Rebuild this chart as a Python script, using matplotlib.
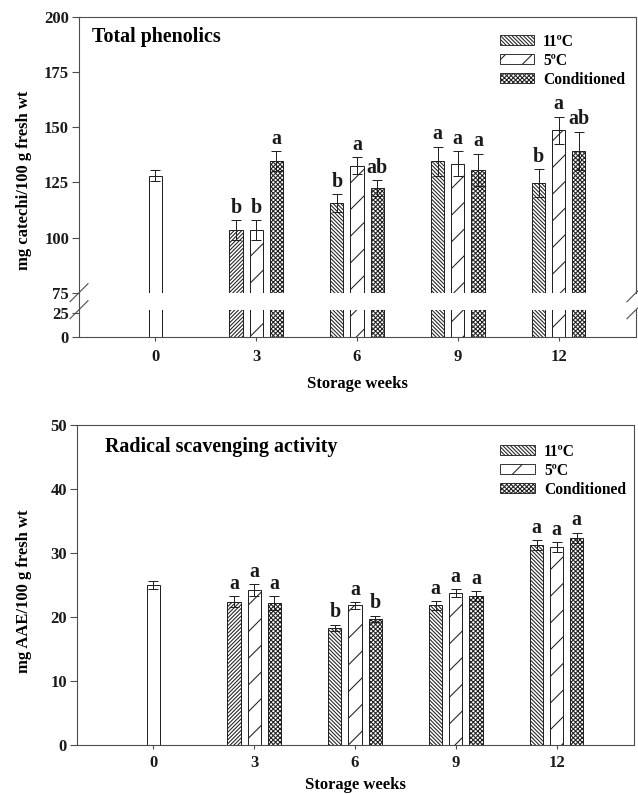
import matplotlib
matplotlib.use("Agg")
import matplotlib.pyplot as plt
import numpy as np
from matplotlib.patches import Patch
from matplotlib.lines import Line2D

plt.rcParams['font.family'] = ['Liberation Serif', 'DejaVu Serif']
plt.rcParams['font.weight'] = 'bold'
plt.rcParams['hatch.linewidth'] = 0.95

# storage weeks, week 0 = initial (single control bar)
weeks = [0, 3, 6, 9, 12]
stored = [3, 6, 9, 12]
treatments = ['11ºC', '5ºC', 'Conditioned']

# total phenolics, mg catechin / 100 g fresh wt
phen_init = 128.0
phen_init_err = 2.5
phen_11 = [103.5, 115.8, 134.6, 124.8]
phen_5 = [103.5, 132.6, 133.4, 148.6]
phen_cond = [134.8, 122.6, 130.8, 139.4]
phen_11_err = [4.5, 4.0, 6.6, 6.2]
phen_5_err = [4.5, 4.0, 5.7, 6.2]
phen_cond_err = [4.5, 3.6, 7.3, 8.6]
phen_letters = [['b', 'b', 'a'], ['b', 'a', 'ab'], ['a', 'a', 'a'], ['b', 'a', 'ab']]

# radical scavenging activity, mg AAE / 100 g fresh wt
rsa_init = 25.0
rsa_init_err = 0.6
rsa_11 = [22.4, 18.3, 21.8, 31.2]
rsa_5 = [24.2, 21.8, 23.8, 30.9]
rsa_cond = [22.2, 19.7, 23.3, 32.4]
rsa_11_err = [0.9, 0.5, 0.7, 0.8]
rsa_5_err = [0.9, 0.5, 0.6, 0.75]
rsa_cond_err = [1.1, 0.5, 0.8, 0.8]
rsa_letters = [['a', 'a', 'a'], ['b', 'a', 'b'], ['a', 'a', 'a'], ['a', 'a', 'a']]

# styling
edge = '#222222'
spine_c = '#4d4d4d'
offsets = [-0.6, 0.0, 0.6]
bar_w = 0.39
h11 = '\\' * 7
h5 = '/'
hc = 'xxxxxx'
# the week-3 11ºC bar is hatched the other way in the original
hatch_sets = [['/' * 7, h11, h11, h11], [h5] * 4, [hc] * 4]


def draw_bars(ax, init, series, init_err=None, errs=None):
    ax.bar(weeks[0], init, width=bar_w, color='white', edgecolor=edge, lw=0.9, zorder=2)
    if init_err is not None:
        ax.errorbar(weeks[0], init, yerr=init_err, fmt='none', ecolor=edge,
                    elinewidth=0.9, capsize=4.5, capthick=0.9, zorder=3)
    for i, vals in enumerate(series):
        x = np.array(stored) + offsets[i]
        bars = ax.bar(x, vals, width=bar_w, color='white', edgecolor=edge, lw=0.9, zorder=2)
        for b, h in zip(bars, hatch_sets[i]):
            b.set_hatch(h)
        if errs is not None:
            ax.errorbar(x, vals, yerr=errs[i], fmt='none', ecolor=edge,
                        elinewidth=0.9, capsize=4.5, capthick=0.9, zorder=3)


def add_letters(ax, series, errs, letters):
    for i, vals in enumerate(series):
        for j, v in enumerate(vals):
            ax.annotate(letters[j][i], (stored[j] + offsets[i], v + errs[i][j]),
                        xytext=(0, 2), textcoords='offset points', ha='center',
                        va='bottom', fontsize=18, fontweight='bold', color='#1a1a1a')


def style(ax):
    for s in ax.spines.values():
        s.set_color(spine_c)
        s.set_linewidth(1.0)
    ax.tick_params(direction='out', length=6, width=1.0, color=spine_c,
                   labelsize=15, labelcolor='#1a1a1a', pad=3)
    ax.set_xlim(-2.27, 14.3)


def add_legend(ax, anchor):
    handles = [Patch(facecolor='white', edgecolor=edge, lw=0.8, hatch=h)
               for h in (h11, h5, hc)]
    ax.legend(handles, treatments, loc='upper left', bbox_to_anchor=anchor,
              frameon=False, fontsize=14, handlelength=2.2, handleheight=0.6,
              handletextpad=0.6, labelspacing=0.2, borderpad=0, borderaxespad=0)


W, H = 638, 794
fig = plt.figure(figsize=(W / 80, H / 80), dpi=80)

# top panel: broken y axis
ax_hi = fig.add_axes([79 / W, 1 - 292.7 / H, 557 / W, 275.7 / H])
ax_lo = fig.add_axes([79 / W, 1 - 337 / H, 557 / W, 27.3 / H])

phen_series = [phen_11, phen_5, phen_cond]
phen_errs = [phen_11_err, phen_5_err, phen_cond_err]
draw_bars(ax_hi, phen_init, phen_series, phen_init_err, phen_errs)
draw_bars(ax_lo, phen_init, phen_series)
add_letters(ax_hi, phen_series, phen_errs, phen_letters)

for ax in (ax_hi, ax_lo):
    style(ax)
ax_hi.set_ylim(75, 200)
ax_hi.set_yticks([75, 100, 125, 150, 175, 200])
ax_hi.spines['bottom'].set_visible(False)
ax_hi.tick_params(axis='x', bottom=False, labelbottom=False)
ax_lo.set_ylim(0, 28.5)
ax_lo.set_yticks([0, 25])
ax_lo.spines['top'].set_visible(False)
ax_lo.set_xticks(weeks)
ax_lo.tick_params(axis='x', length=4, pad=7)
ax_lo.set_xlabel('Storage weeks', fontsize=15, fontweight='bold', labelpad=10)

ax_hi.text(0.023, 0.927, 'Total phenolics', transform=ax_hi.transAxes,
           fontsize=18, fontweight='bold', va='center', ha='left')
add_legend(ax_hi, (0.755, 0.94))
fig.text(24 / W, 1 - 180 / H, 'mg catechi/100 g fresh wt', rotation=90,
         fontsize=15, fontweight='bold', ha='center', va='center')

# break marks and the joining left spine
p_hi = ax_hi.get_position()
p_lo = ax_lo.get_position()
dx, dy = 9 / W, 9 / H
fig.add_artist(Line2D([p_hi.x0, p_hi.x0], [p_lo.y1, p_hi.y0], color=spine_c, lw=1.0))
for xc in (p_hi.x0, p_hi.x1):
    for yc in (p_hi.y0, p_lo.y1):
        fig.add_artist(Line2D([xc - dx, xc + dx], [yc - dy, yc + dy],
                              color=spine_c, lw=1.0))

# bottom panel
ax_b = fig.add_axes([77 / W, 1 - 745 / H, 557 / W, 320 / H])
rsa_series = [rsa_11, rsa_5, rsa_cond]
rsa_errs = [rsa_11_err, rsa_5_err, rsa_cond_err]
draw_bars(ax_b, rsa_init, rsa_series, rsa_init_err, rsa_errs)
add_letters(ax_b, rsa_series, rsa_errs, rsa_letters)
style(ax_b)
ax_b.set_ylim(0, 50)
ax_b.set_yticks([0, 10, 20, 30, 40, 50])
ax_b.set_xticks(weeks)
ax_b.tick_params(axis='x', length=4, pad=5)
ax_b.set_xlabel('Storage weeks', fontsize=15, fontweight='bold', labelpad=5)
fig.text(24 / W, 1 - 591 / H, 'mg AAE/100 g fresh wt', rotation=90,
         fontsize=15, fontweight='bold', ha='center', va='center')
ax_b.text(0.05, 0.931, 'Radical scavenging activity', transform=ax_b.transAxes,
          fontsize=18, fontweight='bold', va='center', ha='left')
add_legend(ax_b, (0.76, 0.942))

fig.savefig('out.png', dpi=80)
